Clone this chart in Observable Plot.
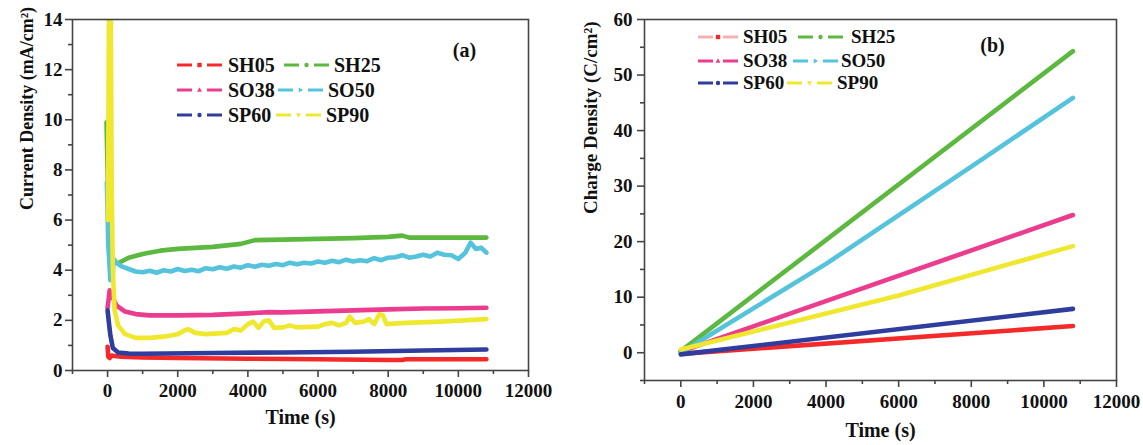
<!DOCTYPE html>
<html>
<head>
<meta charset="utf-8">
<script src="https://cdn.jsdelivr.net/npm/d3@7"></script>
<script src="https://cdn.jsdelivr.net/npm/@observablehq/plot@0.6"></script>
<style>
  html, body { margin: 0; padding: 0; background: #fff; }
  #wrap { position: relative; width: 1143px; height: 445px; overflow: hidden; background: #fff;
          font-family: "Liberation Serif", "Times New Roman", serif; }
  .panel { position: absolute; top: 0; }
  .leg { position: absolute; display: flex; align-items: center; height: 24px; font-weight: bold; color: #111; white-space: nowrap; }
  .leg svg { display: block; }
</style>
</head>
<body>
<div id="wrap"></div>
<script>
// ---------- categories & styling ----------
const series = ["SH05", "SH25", "SO38", "SO50", "SP60", "SP90"];
const colors = ["#f42a2a", "#5cb83f", "#ec3c8e", "#55c3dc", "#2e3d9e", "#efe82f"];
const markers = ["square", "circle", "triangleUp", "triangleRight", "star", "triangleDown"];

// ---------- tick values ----------
const xMajor = [0, 2000, 4000, 6000, 8000, 10000, 12000];
const xMinor = [-1000, 1000, 3000, 5000, 7000, 9000, 11000];
const yMajorA = [0, 2, 4, 6, 8, 10, 12, 14];
const yMinorA = [1, 3, 5, 7, 9, 11, 13];
const yMajorB = [0, 10, 20, 30, 40, 50, 60];
const yMinorB = [-5, 5, 15, 25, 35, 45, 55];

// ---------- panel (a): current density (mA/cm2) vs time (s) ----------
const tSH05a = [0, 20, 60, 120, 200, 400, 1000, 2000, 4000, 6000, 8000, 8400, 8500, 10800];
const vSH05a = [0.95, 0.55, 0.5, 0.6, 0.58, 0.55, 0.52, 0.5, 0.47, 0.45, 0.42, 0.42, 0.45, 0.45];

const tSH25a = [-30, 0, 40, 100, 200, 300, 600, 1000, 1500, 2000, 3000, 3800, 4200, 5000, 6000, 7000, 8000, 8400, 8600, 9500, 10800];
const vSH25a = [9.9, 8.0, 5.0, 4.5, 4.3, 4.28, 4.5, 4.65, 4.78, 4.85, 4.93, 5.05, 5.2, 5.22, 5.25, 5.28, 5.33, 5.38, 5.3, 5.3, 5.3];

const tSO38a = [0, 60, 150, 250, 500, 800, 1200, 2000, 3000, 4000, 4600, 5000, 6000, 7000, 8000, 9000, 10000, 10800];
const vSO38a = [2.5, 3.2, 2.9, 2.6, 2.35, 2.25, 2.2, 2.2, 2.22, 2.28, 2.33, 2.32, 2.36, 2.4, 2.44, 2.47, 2.48, 2.5];

const tSO50a = [-20, 20, 80, 140, 170, 250, 400, 600, 800, 1000, 1200, 1400, 1600, 1800, 2000, 2200, 2400, 2600, 2800, 3000,
  3200, 3400, 3600, 3800, 4000, 4200, 4400, 4600, 4800, 5000, 5200, 5400, 5600, 5800, 6000, 6200, 6400, 6600, 6800, 7000,
  7200, 7400, 7600, 7800, 8000, 8200, 8400, 8600, 8800, 9000, 9200, 9400, 9600, 9800, 10000, 10200, 10350, 10500, 10650, 10800];
const vSO50a = [7.5, 5.0, 3.6, 3.6, 4.45, 4.3, 4.15, 4.05, 3.95, 3.92, 3.98, 3.9, 4.0, 3.95, 4.05, 3.97, 4.02, 3.96, 4.08, 4.04,
  4.12, 4.06, 4.15, 4.1, 4.2, 4.14, 4.22, 4.18, 4.25, 4.2, 4.3, 4.24, 4.3, 4.27, 4.35, 4.3, 4.38, 4.32, 4.42, 4.35,
  4.4, 4.36, 4.48, 4.4, 4.5, 4.52, 4.6, 4.5, 4.55, 4.62, 4.55, 4.7, 4.62, 4.6, 4.45, 4.7, 5.1, 4.85, 4.9, 4.7];

const tSP60a = [0, 30, 80, 150, 300, 600, 1000, 3000, 5000, 7000, 9000, 10800];
const vSP60a = [2.4, 2.0, 1.4, 0.9, 0.72, 0.68, 0.67, 0.7, 0.72, 0.75, 0.8, 0.84];

const tSP90a = [10, 40, 90, 120, 150, 200, 300, 500, 800, 1200, 1600, 2000, 2200, 2300, 2500, 2800, 3400, 3600, 3800, 4000,
  4150, 4300, 4450, 4600, 4750, 5000, 5200, 5400, 6000, 6200, 6400, 6600, 6800, 6900, 7050, 7300, 7450, 7600, 7750, 7850,
  7950, 8500, 9500, 10800];
const vSP90a = [6.0, 14.5, 14.5, 7.0, 4.0, 2.4, 1.8, 1.45, 1.3, 1.3, 1.35, 1.45, 1.6, 1.65, 1.5, 1.45, 1.5, 1.65, 1.6, 1.85,
  1.95, 1.7, 1.95, 2.0, 1.7, 1.72, 1.8, 1.72, 1.75, 1.85, 1.9, 1.8, 1.9, 2.15, 1.9, 1.95, 2.05, 1.85, 2.25, 2.2,
  1.85, 1.9, 1.95, 2.05];

// ---------- panel (b): charge density (C/cm2) vs time (s) ----------
const tSH05b = [0, 10800];            const vSH05b = [-0.2, 4.8];
const tSH25b = [0, 10800];            const vSH25b = [0.3, 54.3];
const tSO38b = [0, 10800];            const vSO38b = [0.2, 24.8];
const tSO50b = [0, 4000, 8000, 10800]; const vSO50b = [0.0, 16.0, 33.5, 45.9];
const tSP60b = [0, 10800];            const vSP60b = [-0.3, 7.9];
const tSP90b = [0, 6000, 10800];      const vSP90b = [0.6, 10.3, 19.2];

function rows(ts, vs, s) { return ts.map((t, i) => ({ t, v: vs[i], s })); }
const dataA = [
  ...rows(tSH05a, vSH05a, "SH05"), ...rows(tSH25a, vSH25a, "SH25"), ...rows(tSO38a, vSO38a, "SO38"),
  ...rows(tSO50a, vSO50a, "SO50"), ...rows(tSP60a, vSP60a, "SP60"), ...rows(tSP90a, vSP90a, "SP90")
];
const dataB = [
  ...rows(tSH05b, vSH05b, "SH05"), ...rows(tSH25b, vSH25b, "SH25"), ...rows(tSO38b, vSO38b, "SO38"),
  ...rows(tSO50b, vSO50b, "SO50"), ...rows(tSP60b, vSP60b, "SP60"), ...rows(tSP90b, vSP90b, "SP90")
];

const FONT = '"Liberation Serif", "Times New Roman", serif';
const AX = "#454545";

function panel(opts) {
  const { data, width, ml, mr, mb, yDomain, yMajor, yMinor, ylabel, ylabelDx, ylabelDy, xPad, yPad, xTitleDy, tag, tagDx, tagDy } = opts;
  return Plot.plot({
    width, height: 445,
    marginLeft: ml, marginRight: mr, marginTop: 19, marginBottom: mb,
    style: { fontFamily: FONT, fontWeight: "bold", fontSize: "19px", color: "#111", background: "#fff", overflow: "visible" },
    x: { domain: [-1000, 12000], label: null },
    y: { domain: yDomain, label: null },
    color: { domain: series, range: colors },
    marks: [
      Plot.line(data, { x: "t", y: "v", z: "s", stroke: "s", strokeWidth: 4.6, strokeLinecap: "round", strokeLinejoin: "round", clip: true }),
      Plot.frame({ stroke: AX, strokeWidth: 1.6 }),
      Plot.axisX({ ticks: xMajor, tickSize: 7, tickPadding: xPad, stroke: AX, strokeWidth: 1.6, fill: "#111", label: null, tickFormat: d => String(d) }),
      Plot.axisX({ ticks: xMinor, tickSize: 4, stroke: AX, strokeWidth: 1.6, label: null, tickFormat: () => "" }),
      Plot.axisY({ ticks: yMajor, tickSize: 7, tickPadding: yPad, stroke: AX, strokeWidth: 1.6, fill: "#111", label: null, tickFormat: d => String(d) }),
      Plot.axisY({ ticks: yMinor, tickSize: 4, stroke: AX, strokeWidth: 1.6, label: null, tickFormat: () => "" }),
      Plot.text(["Time (s)"], { text: d => d, frameAnchor: "bottom", dy: xTitleDy, fontSize: 20, fontWeight: "bold", fill: "#111" }),
      Plot.text([ylabel], { text: d => d, frameAnchor: "left", rotate: -90, dx: ylabelDx, dy: ylabelDy, fontSize: opts.ylabelSize, fontWeight: "bold", fill: "#111" }),
      Plot.text([tag], { text: d => d, frameAnchor: "top-left", dx: tagDx, dy: tagDy, textAnchor: "middle", fontSize: 20, fontWeight: "bold", fill: "#111" })
    ]
  });
}

const wrap = document.getElementById("wrap");

const pa = panel({
  data: dataA, width: 572, ml: 72, mr: 44, mb: 75,
  yDomain: [0, 14], yMajor: yMajorA, yMinor: yMinorA,
  ylabel: "Current Density (mA/cm²)", ylabelSize: 18, ylabelDx: -45, ylabelDy: 15,
  xPad: 6, yPad: 3, xTitleDy: 53, tag: "(a)", tagDx: 392, tagDy: 23
});
pa.classList.add("panel"); pa.style.left = "0px";
wrap.appendChild(pa);

const pb = panel({
  data: dataB, width: 571, ml: 72, mr: 27, mb: 65,
  yDomain: [-5, 60], yMajor: yMajorB, yMinor: yMinorB,
  ylabel: "Charge Density (C/cm²)", ylabelSize: 19, ylabelDx: -54, ylabelDy: 14,
  xPad: 7, yPad: 5, xTitleDy: 56, tag: "(b)", tagDx: 348, tagDy: 18
});
pb.classList.add("panel"); pb.style.left = "572px";
wrap.appendChild(pb);

// ---------- legends ----------
function markerPath(kind, cx, cy, r) {
  switch (kind) {
    case "square": return `M${cx - r},${cy - r}h${2 * r}v${2 * r}h${-2 * r}Z`;
    case "circle": return `M${cx - r},${cy}a${r},${r} 0 1,0 ${2 * r},0a${r},${r} 0 1,0 ${-2 * r},0Z`;
    case "triangleUp": return `M${cx},${cy - r * 1.2}L${cx + r * 1.1},${cy + r * 0.8}L${cx - r * 1.1},${cy + r * 0.8}Z`;
    case "triangleDown": return `M${cx},${cy + r * 1.2}L${cx + r * 1.1},${cy - r * 0.8}L${cx - r * 1.1},${cy - r * 0.8}Z`;
    case "triangleRight": return `M${cx + r * 1.2},${cy}L${cx - r * 0.8},${cy - r * 1.1}L${cx - r * 0.8},${cy + r * 1.1}Z`;
    default: return `M${cx - r},${cy}a${r},${r} 0 1,0 ${2 * r},0a${r},${r} 0 1,0 ${-2 * r},0Z`;
  }
}
function legendItem(i, left, rowY, lineW, textGap, fontSize, lineColor) {
  const div = document.createElement("div");
  div.className = "leg";
  div.style.left = left + "px";
  div.style.top = (rowY - 12) + "px";
  div.style.fontSize = fontSize + "px";
  const seg = 15, mid = lineW / 2;
  const lc = lineColor || colors[i];
  div.innerHTML =
    `<svg width="${lineW}" height="24" viewBox="0 0 ${lineW} 24">` +
    `<line x1="0" y1="12" x2="${seg}" y2="12" stroke="${lc}" stroke-width="3"/>` +
    `<line x1="${lineW - seg}" y1="12" x2="${lineW}" y2="12" stroke="${lc}" stroke-width="3"/>` +
    `<path d="${markerPath(markers[i], mid, 12, 2.2)}" fill="${colors[i]}"/>` +
    `</svg><span style="margin-left:${textGap}px">${series[i]}</span>`;
  wrap.appendChild(div);
}
// panel (a) legend
const rowsA = [65, 90, 115];
const col2A = [284, 278, 276];
for (let r = 0; r < 3; r++) {
  legendItem(2 * r, 177, rowsA[r], 45, 6, 20);
  legendItem(2 * r + 1, col2A[r], rowsA[r], 45, 5, 20);
}
// panel (b) legend
const rowsB = [37, 61, 83];
const col2B = [798, 793, 787];
const gap2B = [8, 3, 5];
for (let r = 0; r < 3; r++) {
  legendItem(2 * r, 698, rowsB[r], 40, 5, 19, r === 0 ? "#f6b2b2" : null);
  legendItem(2 * r + 1, col2B[r], rowsB[r], 45, gap2B[r], 19);
}
</script>
</body>
</html>
